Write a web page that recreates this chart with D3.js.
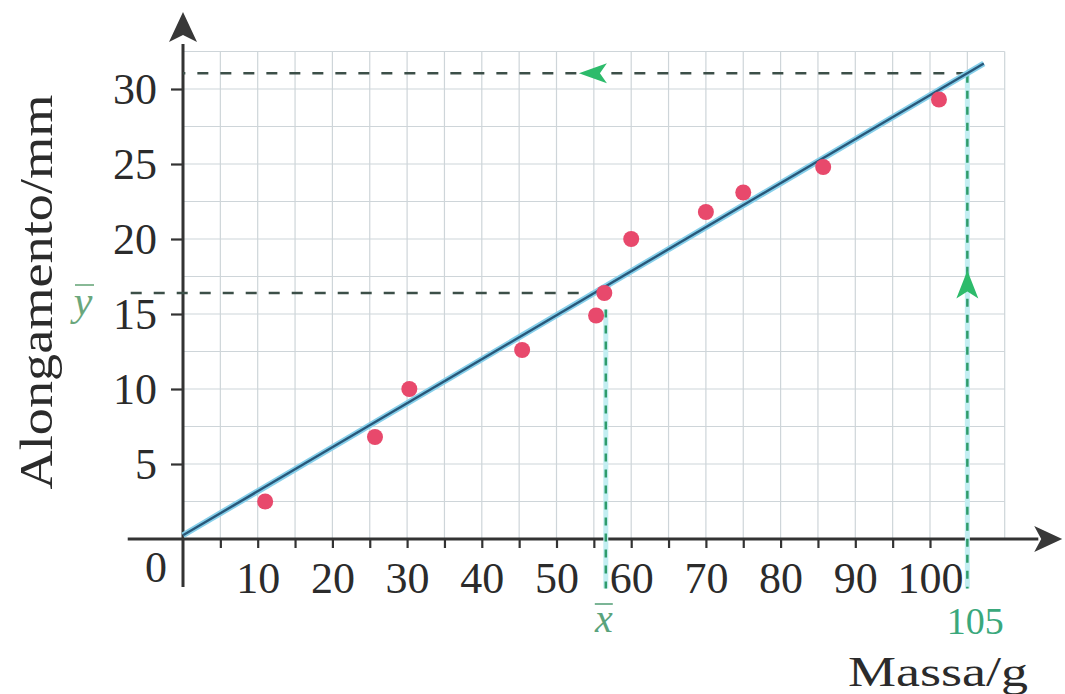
<!DOCTYPE html>
<html>
<head>
<meta charset="utf-8">
<script src="https://cdn.jsdelivr.net/npm/d3@7"></script>
<style>
  body { margin: 0; background: #fff; }
  svg { display: block; }
</style>
</head>
<body>
<svg></svg>
<script>
// data
const massa = [11, 25.7, 30.3, 45.4, 55.3, 60, 70, 75, 85.7, 101.2];
const alongamento = [2.5, 6.8, 10, 12.6, 14.9, 20, 21.8, 23.1, 24.8, 29.3];
const xMean = 56.6;
const yMean = 16.4;
const fitLine = [[0, 0.25], [107.2, 31.7]];
const xPred = 105;
const yPred = 31.05;
const xTicks = d3.range(5, 110, 5);
const xLabels = [10, 20, 30, 40, 50, 60, 70, 80, 90, 100];
const yTicks = [5, 10, 15, 20, 25, 30];

const width = 1065;
const height = 694;
const font = "'Liberation Serif', 'Times New Roman', serif";

const svg = d3.select("svg").attr("width", width).attr("height", height);

const x = d3.scaleLinear().domain([0, 110]).range([183, 1004.7]);
const y = d3.scaleLinear().domain([0, 32.5]).range([539, 51.5]);

// grid paper
const grid = svg.append("g").attr("stroke", "#ced5d9").attr("stroke-width", 1.2);
grid.selectAll("line.v")
  .data(d3.range(5, 111, 5))
  .enter()
  .append("line")
  .attr("x1", (d) => x(d))
  .attr("x2", (d) => x(d))
  .attr("y1", y(0))
  .attr("y2", y(32.5));
grid.selectAll("line.h")
  .data(d3.range(2.5, 33, 2.5))
  .enter()
  .append("line")
  .attr("x1", x(0))
  .attr("x2", x(110))
  .attr("y1", (d) => y(d))
  .attr("y2", (d) => y(d));

// axes (ticks + labels from d3 axes, lines drawn with arrows)
const xAxis = d3.axisBottom(x)
  .tickValues(xTicks)
  .tickSize(9)
  .tickPadding(14)
  .tickFormat((d) => (xLabels.includes(d) ? d : ""));
const gx = svg.append("g").attr("transform", `translate(0,${y(0)})`).call(xAxis);
gx.select(".domain").remove();
gx.selectAll("line").attr("stroke", "#333").attr("stroke-width", 2.2);
gx.selectAll("text")
  .attr("font-family", font)
  .attr("font-size", 44)
  .attr("fill", "#2b2b2b");

const yAxis = d3.axisLeft(y).tickValues(yTicks).tickSize(12).tickPadding(14);
const gy = svg.append("g").attr("transform", `translate(${x(0)},0)`).call(yAxis);
gy.select(".domain").remove();
gy.selectAll("line").attr("stroke", "#333").attr("stroke-width", 2.2);
gy.selectAll("text")
  .attr("font-family", font)
  .attr("font-size", 44)
  .attr("fill", "#2b2b2b");

svg.append("line")
  .attr("x1", x(-7.4)).attr("x2", x(114.5))
  .attr("y1", y(0)).attr("y2", y(0))
  .attr("stroke", "#333").attr("stroke-width", 3);
svg.append("line")
  .attr("x1", x(0)).attr("x2", x(0))
  .attr("y1", y(-3.2)).attr("y2", y(33))
  .attr("stroke", "#333").attr("stroke-width", 3);

// axis arrowheads
const xt = [x(117.7), y(0)];
svg.append("path")
  .attr("d", `M${xt[0]},${xt[1]} L${xt[0] - 28},${xt[1] - 13} L${xt[0] - 21},${xt[1]} L${xt[0] - 28},${xt[1] + 13} Z`)
  .attr("fill", "#383838");
const yt = [x(0), y(35.13)];
svg.append("path")
  .attr("d", `M${yt[0]},${yt[1]} L${yt[0] - 14},${yt[1] + 30} L${yt[0]},${yt[1] + 23} L${yt[0] + 14},${yt[1] + 30} Z`)
  .attr("fill", "#383838");

svg.append("text")
  .attr("x", x(0) - 16)
  .attr("y", y(0) + 43)
  .attr("text-anchor", "end")
  .attr("font-family", font)
  .attr("font-size", 44)
  .attr("fill", "#2b2b2b")
  .text("0");

// axis titles
svg.append("text")
  .attr("transform", `translate(52,${292}) rotate(-90)`)
  .attr("text-anchor", "middle")
  .attr("font-family", font)
  .attr("font-size", 46)
  .attr("fill", "#2b2b2b")
  .attr("textLength", 395)
  .attr("lengthAdjust", "spacingAndGlyphs")
  .text("Alongamento/mm");

svg.append("text")
  .attr("x", 848)
  .attr("y", 686)
  .attr("font-family", font)
  .attr("font-size", 42)
  .attr("fill", "#2b2b2b")
  .attr("textLength", 180)
  .attr("lengthAdjust", "spacingAndGlyphs")
  .text("Massa/g");

// guide lines
const dark = "#3c4f48";
const green = "#2f9c6c";
const halo = "#c3eef2";

// mean y, horizontal
svg.append("line")
  .attr("x1", x(-7)).attr("x2", x(xMean))
  .attr("y1", y(yMean)).attr("y2", y(yMean))
  .attr("stroke", dark).attr("stroke-width", 2.5)
  .attr("stroke-dasharray", "11,12");

// prediction, horizontal back to axis
svg.append("line")
  .attr("x1", x(105)).attr("x2", x(0))
  .attr("y1", y(yPred)).attr("y2", y(yPred))
  .attr("stroke", dark).attr("stroke-width", 2.5)
  .attr("stroke-dasharray", "11,12");

// verticals (green with light halo)
const verticals = [
  { xv: xMean, top: yMean - 1.1 },
  { xv: xPred, top: yPred - 0.1 },
];
verticals.forEach((v) => {
  svg.append("line")
    .attr("x1", x(v.xv)).attr("x2", x(v.xv))
    .attr("y1", y(v.top)).attr("y2", y(-3.3))
    .attr("stroke", halo).attr("stroke-width", 5);
  svg.append("line")
    .attr("x1", x(v.xv)).attr("x2", x(v.xv))
    .attr("y1", y(v.top)).attr("y2", y(-3.3))
    .attr("stroke", green).attr("stroke-width", 2.5)
    .attr("stroke-dasharray", "8,8");
});

// regression line
const line = d3.line().x((d) => x(d[0])).y((d) => y(d[1]));
svg.append("path")
  .attr("d", line(fitLine))
  .attr("fill", "none")
  .attr("stroke", "#86cfea")
  .attr("stroke-width", 6);
svg.append("path")
  .attr("d", line(fitLine))
  .attr("fill", "none")
  .attr("stroke", "#28587a")
  .attr("stroke-width", 2.4);

// direction arrows (green)
const arrowGreen = "#2dbb6b";
const ua = [x(xPred), y(17.9)];
svg.append("path")
  .attr("d", `M${ua[0]},${ua[1]} L${ua[0] - 11},${ua[1] + 28} L${ua[0]},${ua[1] + 21} L${ua[0] + 11},${ua[1] + 28} Z`)
  .attr("fill", arrowGreen);
const la = [x(53), y(yPred)];
svg.append("path")
  .attr("d", `M${la[0]},${la[1]} L${la[0] + 28},${la[1] - 10} L${la[0] + 21},${la[1]} L${la[0] + 28},${la[1] + 10} Z`)
  .attr("fill", arrowGreen);

// data points
const points = massa.map((m, i) => ({ m, a: alongamento[i] }));
points.push({ m: xMean - 0.2, a: yMean });
svg.selectAll("circle")
  .data(points)
  .enter()
  .append("circle")
  .attr("cx", (d) => x(d.m))
  .attr("cy", (d) => y(d.a))
  .attr("r", 8)
  .attr("fill", "#e8496c");

// green labels
svg.append("text")
  .attr("x", x(xPred) + 8)
  .attr("y", 634)
  .attr("text-anchor", "middle")
  .attr("font-family", font)
  .attr("font-size", 38)
  .attr("fill", "#3aa87c")
  .text("105");

svg.append("text")
  .attr("x", x(xMean) - 2)
  .attr("y", 632)
  .attr("text-anchor", "middle")
  .attr("font-family", font)
  .attr("font-style", "italic")
  .attr("font-size", 40)
  .attr("fill", "#5aa37c")
  .text("x");
svg.append("line")
  .attr("x1", x(xMean) - 11).attr("x2", x(xMean) + 7)
  .attr("y1", 604).attr("y2", 604)
  .attr("stroke", "#5aa37c").attr("stroke-width", 1.6);

svg.append("text")
  .attr("x", 83)
  .attr("y", 315)
  .attr("text-anchor", "middle")
  .attr("font-family", font)
  .attr("font-style", "italic")
  .attr("font-size", 42)
  .attr("fill", "#6aa77c")
  .text("y");
svg.append("line")
  .attr("x1", 75).attr("x2", 94)
  .attr("y1", 285).attr("y2", 285)
  .attr("stroke", "#6aa77c").attr("stroke-width", 1.6);
</script>
</body>
</html>
